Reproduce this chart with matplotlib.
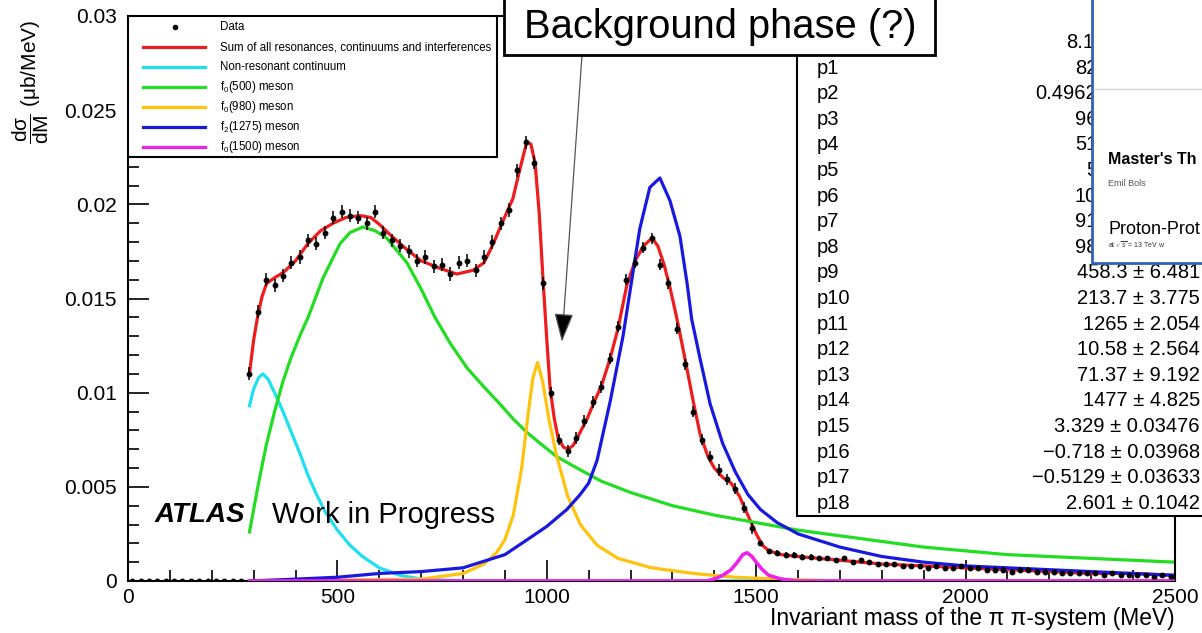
import numpy as np
import matplotlib
import matplotlib.pyplot as plt
from matplotlib.patches import Rectangle
from matplotlib.lines import Line2D
from matplotlib.ticker import MultipleLocator, FuncFormatter

matplotlib.use('Agg')

plt.rcParams['font.family'] = ['Liberation Sans', 'DejaVu Sans']
plt.rcParams['mathtext.fontset'] = 'custom'
plt.rcParams['mathtext.rm'] = 'Liberation Sans'
plt.rcParams['mathtext.it'] = 'Liberation Sans:italic'

# measured spectrum, 20 MeV bins starting at 0 MeV
xsec = [0.0] * 14 + [
    0.0110, 0.0143, 0.0160, 0.0157, 0.0162, 0.0169, 0.0172, 0.0181, 0.0179, 0.0185,
    0.0193, 0.0196, 0.0194, 0.0193, 0.0190, 0.0196, 0.0185, 0.0181, 0.0178, 0.0175,
    0.0170, 0.0172, 0.0167, 0.0168, 0.0163, 0.0169, 0.0170, 0.0165, 0.0172, 0.0180,
    0.0190, 0.0197, 0.0218, 0.0233, 0.0222, 0.0158,
    0.0100, 0.0075, 0.0069, 0.0076, 0.0085, 0.0095, 0.0103, 0.0118, 0.0135, 0.0160,
    0.0169, 0.0177, 0.0182, 0.0168, 0.0158, 0.0134, 0.0115, 0.0090, 0.0075, 0.0066,
    0.0059, 0.0054, 0.0049, 0.0039, 0.0028,
    0.0020, 0.0016, 0.0015, 0.0014, 0.0014, 0.0013, 0.0013, 0.0012, 0.0012, 0.0011,
    0.0012, 0.0010, 0.0011, 0.0010, 0.0009, 0.0009, 0.0009, 0.0008, 0.0008, 0.0008,
    0.0007, 0.0008, 0.0007, 0.0007, 0.0008, 0.0007, 0.0007, 0.0006, 0.0006, 0.0006,
    0.0005, 0.0006, 0.0006, 0.0005, 0.0005, 0.0005, 0.0004, 0.0004, 0.0004, 0.0004,
    0.0004, 0.0003, 0.0004, 0.0003, 0.0003, 0.0003, 0.0003, 0.0002, 0.0003, 0.0002,
]
xsec_err = [0.0] * 14 + [0.00035] * 36 + [0.0003] * 25 + [0.00012] * 50
bin_width = 20
mass = bin_width / 2 + bin_width * np.arange(len(xsec))

# fit components
m_sum = [290, 300, 310, 320, 331, 350, 372, 400, 429, 460, 490, 520, 554, 580, 602,
         630, 666, 700, 745, 785, 824, 850, 872, 895, 919, 935, 952, 962, 972, 982,
         991, 1000, 1008, 1018, 1027, 1040, 1051, 1063, 1075, 1096, 1115, 1131, 1151,
         1170, 1191, 1211, 1231, 1251, 1265, 1280, 1295, 1310, 1330, 1350, 1366, 1385,
         1400, 1420, 1440, 1460, 1480, 1500, 1515, 1530, 1560, 1600, 1650, 1700, 1750,
         1800, 1900, 2000, 2100, 2200, 2300, 2400, 2500]
y_sum = [0.0110, 0.0128, 0.0141, 0.0151, 0.0158, 0.0161, 0.0164, 0.0170, 0.0179, 0.0186,
         0.0190, 0.0193, 0.0194, 0.0193, 0.0189, 0.0183, 0.0176, 0.0170, 0.0166, 0.0163,
         0.0165, 0.0169, 0.0179, 0.0191, 0.0203, 0.0218, 0.0233, 0.0232, 0.0222, 0.0195,
         0.0160, 0.0128, 0.0102, 0.0086, 0.0076, 0.0071, 0.0070, 0.0072, 0.0077, 0.0086,
         0.0096, 0.0104, 0.0118, 0.0134, 0.0157, 0.0170, 0.0178, 0.0182, 0.0178, 0.0168,
         0.0155, 0.0140, 0.0118, 0.0095, 0.0078, 0.0066, 0.0060, 0.0055, 0.0052, 0.0045,
         0.0035, 0.0025, 0.0019, 0.0016, 0.0014, 0.0013, 0.0012, 0.0011, 0.0010, 0.0009,
         0.0008, 0.0007, 0.0006, 0.0005, 0.0004, 0.0004, 0.0003]

m_cont = [290, 300, 312, 322, 335, 350, 370, 390, 410, 430, 450, 470, 500, 530, 560,
          600, 650, 700, 750, 800, 2500]
y_cont = [0.0093, 0.0102, 0.0108, 0.0110, 0.0107, 0.0100, 0.0090, 0.0079, 0.0068, 0.0056,
          0.0046, 0.0037, 0.0027, 0.0019, 0.0013, 0.0007, 0.0003, 0.0001, 0.00005, 0.0, 0.0]

m_f500 = [290, 310, 330, 350, 370, 390, 410, 430, 466, 506, 530, 561, 590, 618, 666,
          700, 733, 770, 810, 850, 888, 920, 952, 990, 1024, 1080, 1130, 1200, 1300,
          1400, 1500, 1600, 1700, 1800, 1900, 2000, 2100, 2200, 2300, 2400, 2500]
y_f500 = [0.0026, 0.0050, 0.0072, 0.0090, 0.0106, 0.0119, 0.0130, 0.0140, 0.0161, 0.0179,
          0.0185, 0.0188, 0.0186, 0.0182, 0.0169, 0.0155, 0.0140, 0.0126, 0.0113, 0.0103,
          0.0094, 0.0086, 0.0079, 0.0072, 0.0066, 0.0059, 0.0053, 0.0047, 0.0040, 0.0035,
          0.0031, 0.0027, 0.0024, 0.0021, 0.0018, 0.0016, 0.0014, 0.0013, 0.0012, 0.0011,
          0.0010]

m_f980 = [290, 700, 800, 850, 880, 900, 920, 940, 955, 967, 978, 990, 1005, 1024, 1050,
          1080, 1120, 1170, 1250, 1350, 1450, 1550, 1700, 2500]
y_f980 = [0.0, 0.0001, 0.0004, 0.0009, 0.0015, 0.0022, 0.0035, 0.0060, 0.0088, 0.0108,
          0.0116, 0.0106, 0.0086, 0.0066, 0.0045, 0.0030, 0.0019, 0.0012, 0.0007, 0.0004,
          0.0002, 0.0001, 0.0, 0.0]

m_f1275 = [290, 400, 500, 600, 700, 800, 900, 967, 1000, 1048, 1080, 1100, 1120, 1151,
           1182, 1203, 1222, 1246, 1270, 1294, 1318, 1335, 1346, 1366, 1390, 1420, 1450,
           1480, 1510, 1550, 1600, 1700, 1800, 1900, 2000, 2100, 2200, 2300, 2400, 2500]
y_f1275 = [0.0, 0.0001, 0.0002, 0.0004, 0.0005, 0.0007, 0.0014, 0.0024, 0.0029, 0.0038,
           0.0046, 0.0052, 0.0064, 0.0095, 0.0130, 0.0160, 0.0187, 0.0209, 0.0214, 0.0202,
           0.0183, 0.0158, 0.0139, 0.0118, 0.0094, 0.0073, 0.0058, 0.0046, 0.0038, 0.0031,
           0.0025, 0.0018, 0.0013, 0.0010, 0.0008, 0.0007, 0.0006, 0.0005, 0.0004, 0.0003]

m_f1500 = [290, 1380, 1400, 1420, 1440, 1455, 1468, 1478, 1490, 1500, 1515, 1530, 1560,
           1600, 2500]
y_f1500 = [0.0, 0.0, 0.0001, 0.0003, 0.0006, 0.0010, 0.0014, 0.0015, 0.0013, 0.0010,
           0.0006, 0.0003, 0.0001, 0.0, 0.0]

components = [
    (m_sum, y_sum, '#ee1c1c', 'Sum of all resonances, continuums and interferences'),
    (m_cont, y_cont, '#1fe0f0', 'Non-resonant continuum'),
    (m_f500, y_f500, '#22dd22', r'f$_0$(500) meson'),
    (m_f980, y_f980, '#ffc20e', r'f$_0$(980) meson'),
    (m_f1275, y_f1275, '#1818e0', r'f$_2$(1275) meson'),
    (m_f1500, y_f1500, '#f020f0', r'f$_0$(1500) meson'),
]

# fit parameters
par_names = ['p%d' % i for i in range(1, 19)]
par_vals = ['82', '0.4962', '96', '51', '5', '10', '91', '98',
            '458.3 ± 6.481', '213.7 ± 3.775', '1265 ± 2.054', '10.58 ± 2.564',
            '71.37 ± 9.192', '1477 ± 4.825', '3.329 ± 0.03476', '\u22120.718 ± 0.03968',
            '\u22120.5129 ± 0.03633', '2.601 ± 0.1042']

W, H = 1202, 633


def fx(px):
    return px / W


def fy(py):
    return 1 - py / H


fig = plt.figure(figsize=(W / 100, H / 100), dpi=100)
ax = fig.add_axes([fx(128), fy(581), fx(1175) - fx(128), fy(16) - fy(581)])

for i, (m, y, c, lab) in enumerate(components):
    ax.plot(m, y, color=c, lw=2.3, zorder=2 + i * 0.1, solid_joinstyle='round')
ax.errorbar(mass, xsec, yerr=xsec_err, fmt='o', ms=3.2, color='black',
            elinewidth=1.1, capsize=0, zorder=3)
# magenta component is drawn last along the baseline
ax.plot(m_f1500, y_f1500, color=components[-1][2], lw=2.3, zorder=3.5)

ax.set_xlim(0, 2500)
ax.set_ylim(0, 0.03)
ax.xaxis.set_major_locator(MultipleLocator(500))
ax.xaxis.set_minor_locator(MultipleLocator(100))
ax.yaxis.set_major_locator(MultipleLocator(0.005))
ax.yaxis.set_minor_locator(MultipleLocator(0.001))
ax.yaxis.set_major_formatter(FuncFormatter(lambda v, p: '%g' % v))
ax.tick_params(which='both', direction='in', top=False, right=False, width=1.2,
               labelsize=15)
ax.tick_params(which='major', length=15)
ax.tick_params(which='minor', length=8)
ax.tick_params(axis='y', pad=8)
ax.tick_params(axis='x', pad=5)
for s in ax.spines.values():
    s.set_linewidth(1.5)

fig.text(fx(31), fy(82), r'$\dfrac{\mathrm{dσ}}{\mathrm{dM}}$ (μb/MeV)', rotation=90,
         ha='center', va='center', fontsize=15)
fig.text(fx(1175), fy(619), 'Invariant mass of the \u03c0 \u03c0-system (MeV)',
         ha='right', va='center', fontsize=16.4)

fig.text(fx(155), fy(515), 'ATLAS', fontsize=20, fontweight='bold', style='italic',
         va='center')
fig.text(fx(272), fy(515), 'Work in Progress', fontsize=21, va='center')


# legend box
def ax_x(px):
    return (px - 128) / (1175 - 128)


def ax_y(py):
    return (581 - py) / (581 - 16)


ax.add_patch(Rectangle((ax_x(128), ax_y(157)), ax_x(497) - ax_x(128),
                       ax_y(16) - ax_y(157), transform=ax.transAxes, facecolor='white',
                       edgecolor='black', lw=1.5, zorder=6))
rows = [27 + 20 * k for k in range(7)]
ax.plot([ax_x(175)], [ax_y(rows[0])], 'o', ms=3, color='black', transform=ax.transAxes,
        zorder=7, clip_on=False)
ax.text(ax_x(220), ax_y(rows[0]), 'Data', fontsize=8.3, va='center',
        transform=ax.transAxes, zorder=7)
for (m, y, c, lab), r in zip(components, rows[1:]):
    ax.add_line(Line2D([ax_x(143), ax_x(205)], [ax_y(r), ax_y(r)], color=c, lw=2.3,
                       transform=ax.transAxes, zorder=7))
    ax.text(ax_x(220), ax_y(r), lab, fontsize=8.3, va='center', transform=ax.transAxes,
            zorder=7)

# arrow to the dip
ax.annotate('', xy=(1036, 0.0127), xytext=(1084, 0.0279),
            arrowprops=dict(arrowstyle='-|>,head_length=1.8,head_width=0.6',
                            ec='#555555', fc='black', lw=0.9, shrinkA=0, shrinkB=0,
                            mutation_scale=10), zorder=5)

# fit-result box
fig.add_artist(Rectangle((fx(797), fy(516)), fx(1215) - fx(797), fy(-10) - fy(516),
                         transform=fig.transFigure, facecolor='white', edgecolor='black',
                         lw=1.5, zorder=5))
fig.text(fx(1094), fy(42), '8.1', ha='right', va='center', fontsize=14.5, zorder=6)
for k, (n, v) in enumerate(zip(par_names, par_vals)):
    yy = 68 + 25.6 * k
    fig.text(fx(817), fy(yy), n, ha='left', va='center', fontsize=14.5, zorder=6)
    xr = 1097 if k < 8 else 1200
    fig.text(fx(xr), fy(yy), v, ha='right', va='center', fontsize=14.5, zorder=6)

# pasted title page
fig.add_artist(Rectangle((fx(1092), fy(263)), fx(1220) - fx(1092), fy(-10) - fy(263),
                         transform=fig.transFigure, facecolor='white', edgecolor='#2f62b8',
                         lw=2, zorder=7))
fig.add_artist(Line2D([fx(1094), fx(1202)], [fy(89), fy(89)], color='#d4d4d4', lw=1,
                      transform=fig.transFigure, zorder=8))
fig.text(fx(1108), fy(160), "Master's Th", fontsize=11.5, fontweight='bold',
         va='center', zorder=8)
fig.text(fx(1108), fy(184), 'Emil Bols', fontsize=6.5, color='#555555', va='center',
         zorder=8)
fig.text(fx(1108), fy(229), 'Proton-Prot', fontsize=13, va='center', zorder=8)
fig.text(fx(1108), fy(245), r'at $\sqrt{s}$ = 13 TeV w', fontsize=5, va='center',
         color='#333333', zorder=8)

# annotation box at the top
fig.add_artist(Rectangle((fx(504), fy(55)), fx(935) - fx(504), fy(-10) - fy(55),
                         transform=fig.transFigure, facecolor='white', edgecolor='black',
                         lw=2, zorder=9))
fig.text(fx(720), fy(27), 'Background phase (?)', fontsize=28.7, ha='center', va='center',
         zorder=10)

fig.savefig('out.png', dpi=100)
